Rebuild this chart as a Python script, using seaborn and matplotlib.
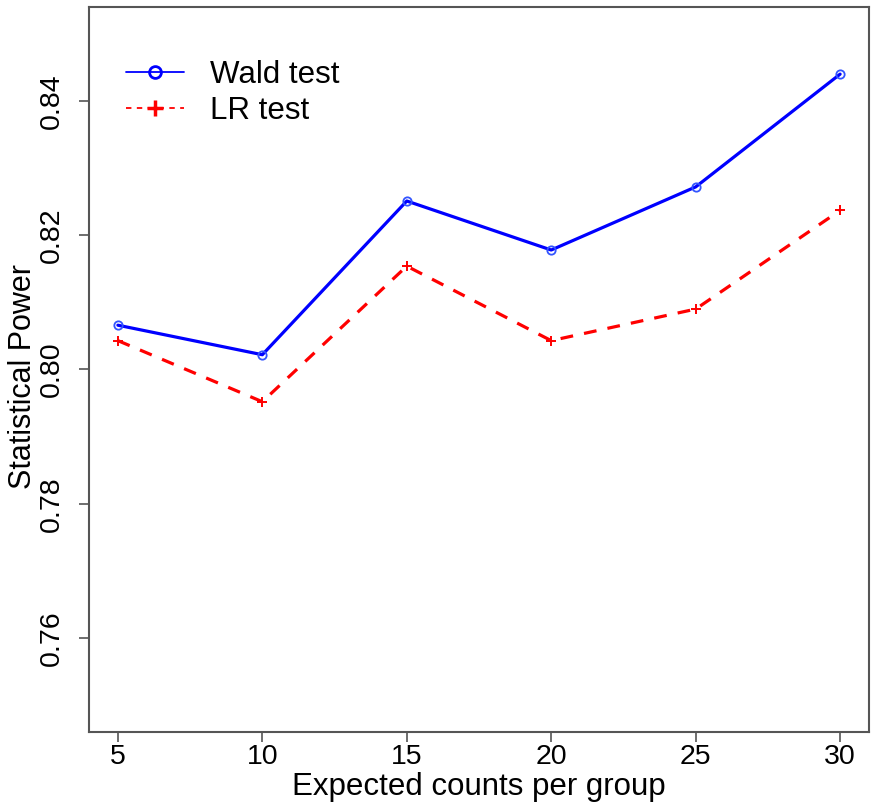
import matplotlib
matplotlib.use("Agg")
import matplotlib.pyplot as plt
from matplotlib.lines import Line2D
import seaborn as sns
import pandas as pd

# Power of the two tests by expected counts per group
counts = [5, 10, 15, 20, 25, 30]
wald_power = [0.8066, 0.8022, 0.8251, 0.8178, 0.8272, 0.8440]
lr_power = [0.8043, 0.7952, 0.8154, 0.8043, 0.8090, 0.8237]
series_names = ["Wald test", "LR test"]
x_ticks = [5, 10, 15, 20, 25, 30]
y_ticks = [0.76, 0.78, 0.80, 0.82, 0.84]

sns.set_style("white")
plt.rcParams["font.family"] = ["Liberation Sans", "DejaVu Sans"]
plt.rcParams["text.color"] = "black"
plt.rcParams["axes.labelcolor"] = "black"

df = pd.DataFrame({
    "counts": counts * 2,
    "power": wald_power + lr_power,
    "test": [series_names[0]] * len(counts) + [series_names[1]] * len(counts),
})

fig = plt.figure(figsize=(8.74, 8.02), dpi=100)
ax = fig.add_axes([89 / 874, 1 - 732 / 802, 780 / 874, 725 / 802])

blue = "#0000FF"
red = "#FF0000"

sns.lineplot(data=df[df["test"] == series_names[0]], x="counts", y="power",
             color=blue, lw=2.3, marker="o", markersize=6, markerfacecolor="none",
             markeredgecolor="#3355FF", markeredgewidth=1.3, ax=ax, legend=False)
sns.lineplot(data=df[df["test"] == series_names[1]], x="counts", y="power",
             color=red, lw=2.3, dashes=(4, 3.5), marker="+", markersize=7.5,
             markeredgecolor=red, markeredgewidth=1.4, ax=ax, legend=False)

ax.set_xlim(4, 31)
ax.set_ylim(0.746, 0.854)
ax.set_xticks(x_ticks)
ax.set_xticklabels([str(v) for v in x_ticks])
ax.set_yticks(y_ticks)
ax.set_yticklabels([f"{v:.2f}" for v in y_ticks])

for s in ax.spines.values():
    s.set_color("#555555")
    s.set_linewidth(1.5)

ax.tick_params(axis="both", direction="out", length=7.5, width=1.2, color="#555555",
               labelsize=20.5, labelcolor="black")
ax.tick_params(axis="x", pad=1, bottom=True)
ax.tick_params(axis="y", pad=10, labelrotation=90, left=True)
for lab in ax.get_yticklabels():
    lab.set_va("center")

ax.set_xlabel("Expected counts per group", fontsize=22.5, color="black")
ax.set_ylabel("Statistical Power", fontsize=22, color="black")
ax.xaxis.set_label_coords(0.5, -0.055)
ax.yaxis.set_label_coords(-0.066, 0.49)

handles = [
    Line2D([], [], color=blue, lw=1.3, marker="o", markersize=8.5,
           markerfacecolor="none", markeredgewidth=2),
    Line2D([], [], color=red, lw=1.3, ls=(0, (3, 3)), marker="+", markersize=11,
           markeredgewidth=2.5),
]
leg = ax.legend(handles, series_names, loc="upper left",
                bbox_to_anchor=(126 / 874, 1 - 60 / 802),
                bbox_transform=fig.transFigure, frameon=False, fontsize=22.5,
                handlelength=1.85, handletextpad=0.85, labelspacing=0.18,
                borderpad=0, borderaxespad=0, labelcolor="black")

fig.savefig("out.png", dpi=100)
